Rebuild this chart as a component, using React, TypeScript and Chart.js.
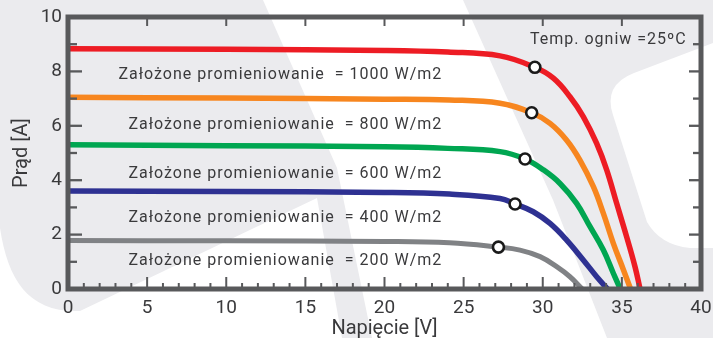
import React, { useEffect, useRef } from "react";
import { Chart, registerables } from "chart.js";

Chart.register(...registerables);

// ---- data ----
const v1000 = [0, 10, 20, 24, 27.3, 29.5, 30.67, 31.72, 32.56, 33.4, 34.04, 34.67, 35.3, 35.83, 36.15];
const i1000 = [8.83, 8.81, 8.77, 8.71, 8.57, 8.15, 7.75, 7.07, 6.34, 5.36, 4.38, 3.15, 1.92, 0.82, 0];

const v800 = [0, 10, 20, 24.1, 27.3, 29.3, 30.46, 31.5, 32.35, 33.2, 33.83, 34.46, 35.09, 35.55];
const i800 = [7.05, 7.02, 6.98, 6.95, 6.83, 6.48, 6.09, 5.48, 4.74, 3.76, 2.78, 1.68, 0.72, 0];

const v600 = [0, 10, 20, 24, 27.3, 28.88, 30.04, 31.09, 32.14, 32.99, 33.83, 34.46, 34.9];
const i600 = [5.3, 5.27, 5.23, 5.17, 5.05, 4.78, 4.38, 3.88, 3.15, 2.29, 1.43, 0.58, 0];

const v400 = [0, 10, 20, 24.1, 27.3, 28.25, 29.4, 30.46, 31.51, 32.56, 33.41, 34.1];
const i400 = [3.6, 3.58, 3.55, 3.49, 3.33, 3.125, 2.84, 2.41, 1.8, 1.07, 0.45, 0];

const v200 = [0, 10, 20, 24.1, 27.2, 28.56, 29.83, 30.88, 31.72, 32.5];
const i200 = [1.78, 1.77, 1.75, 1.7, 1.54, 1.43, 1.19, 0.82, 0.45, 0];

const mppV = [29.5, 29.3, 28.88, 28.25, 27.2];
const mppI = [8.15, 6.48, 4.78, 3.125, 1.54];

const curveColors = ["#ed1c24", "#f7861f", "#00a651", "#2e3192", "#808285"];

const labelTexts = [
  "Założone promieniowanie  = 1000 W/m2",
  "Założone promieniowanie  = 800 W/m2",
  "Założone promieniowanie  = 600 W/m2",
  "Założone promieniowanie  = 400 W/m2",
  "Założone promieniowanie  = 200 W/m2",
];
const labelV = 23.65;
const labelI = [7.95, 6.11, 4.31, 2.66, 1.09];

const tempText = "Temp. ogniw =25ºC";
const tempV = 39.1;
const tempI = 9.22;

const xTitle = "Napięcie [V]";
const yTitle = "Prąd [A]";

const xMin = 0, xMax = 40, xStep = 5;
const yMin = 0, yMax = 10, yStep = 2;

const FRAME = "#58595b";
const TEXT = "#3a3a3c";
const FONT = "Roboto";

const toPts = (xs: number[], ys: number[]) => xs.map((x, i) => ({ x, y: ys[i] }));

const watermarkPlugin = {
  id: "watermark",
  beforeDraw(chart: any) {
    const { ctx, width, height } = chart;
    const sx = width / 713, sy = height / 338;
    ctx.save();
    ctx.scale(sx, sy);
    ctx.fillStyle = "#ebebee";
    ctx.fillRect(0, 0, 713, 338);
    ctx.fillStyle = "#ffffff";
    // central white band
    ctx.beginPath();
    ctx.moveTo(263, 0);
    ctx.lineTo(463, 0);
    ctx.lineTo(553, 200);
    ctx.lineTo(607, 338);
    ctx.lineTo(372, 338);
    ctx.lineTo(337, 168);
    ctx.closePath();
    ctx.fill();
    // bottom-left white
    ctx.beginPath();
    ctx.moveTo(0, 228);
    ctx.bezierCurveTo(8, 282, 30, 313, 80, 311);
    ctx.lineTo(317, 198);
    ctx.lineTo(342, 338);
    ctx.lineTo(0, 338);
    ctx.closePath();
    ctx.fill();
    // right white blob
    ctx.beginPath();
    ctx.moveTo(647, 222);
    ctx.lineTo(613, 115);
    ctx.quadraticCurveTo(603, 85, 634, 73);
    ctx.lineTo(713, 43);
    ctx.lineTo(713, 248);
    ctx.lineTo(690, 248);
    ctx.quadraticCurveTo(660, 245, 647, 222);
    ctx.closePath();
    ctx.fill();
    ctx.restore();
  },
};

const framePlugin = {
  id: "frame",
  afterDatasetsDraw(chart: any) {
    const { ctx, chartArea, scales } = chart;
    const { left, right, top, bottom } = chartArea;
    const x = scales.x, y = scales.y;
    const line = (x1: number, y1: number, x2: number, y2: number) => {
      ctx.beginPath();
      ctx.moveTo(x1, y1);
      ctx.lineTo(x2, y2);
      ctx.stroke();
    };
    ctx.save();
    ctx.strokeStyle = FRAME;
    ctx.lineWidth = 2;
    for (let v = xMin + 1; v < xMax; v++) {
      const px = x.getPixelForValue(v);
      const major = v % 5 === 0;
      line(px, bottom, px, bottom - (major ? 12 : 6));
      if (major) line(px, top, px, top + 9);
    }
    ctx.lineWidth = 2.3;
    for (let v = yMin + 1; v < yMax; v++) {
      const py = y.getPixelForValue(v);
      const major = v % 2 === 0;
      line(left, py, left + (major ? 14 : 9), py);
      line(right, py, right - (major ? 12 : 8), py);
    }
    ctx.lineWidth = 5;
    ctx.strokeRect(left, top, right - left, bottom - top);

    // annotations
    ctx.fillStyle = TEXT;
    (ctx as any).letterSpacing = "1px";
    ctx.font = `16px ${FONT}`;
    ctx.textAlign = "right";
    ctx.textBaseline = "alphabetic";
    labelTexts.forEach((t, i) => {
      ctx.fillText(t, x.getPixelForValue(labelV), y.getPixelForValue(labelI[i]) + 5.8);
    });
    ctx.fillText(tempText, x.getPixelForValue(tempV), y.getPixelForValue(tempI) + 5.8);
    ctx.restore();
  },
};

export default function App() {
  const ref = useRef<HTMLCanvasElement | null>(null);
  useEffect(() => {
    if (!ref.current) return;
    const curves = [
      toPts(v1000, i1000),
      toPts(v800, i800),
      toPts(v600, i600),
      toPts(v400, i400),
      toPts(v200, i200),
    ];
    const datasets: any[] = [
      {
        type: "line",
        label: "MPP",
        data: toPts(mppV, mppI),
        showLine: false,
        pointRadius: 5.5,
        pointBorderWidth: 2.6,
        pointBackgroundColor: "#ffffff",
        pointBorderColor: "#1a1a1a",
        order: 0,
      },
      ...curves.map((d, i) => ({
        type: "line",
        label: labelTexts[i],
        data: d,
        borderColor: curveColors[i],
        borderWidth: i === 4 ? 5 : 5.5,
        borderCapStyle: "butt",
        borderJoinStyle: "round",
        tension: 0.4,
        pointRadius: 0,
        fill: false,
        order: 1,
      })),
    ];
    const chart = new Chart(ref.current, {
      type: "line",
      data: { datasets },
      options: {
        animation: false,
        responsive: true,
        maintainAspectRatio: false,
        layout: { padding: { top: 17, right: 12, left: 0, bottom: 0 } },
        plugins: { legend: { display: false }, tooltip: { enabled: false } },
        scales: {
          x: {
            type: "linear",
            min: xMin,
            max: xMax,
            grid: { display: false, drawTicks: false },
            border: { display: false },
            ticks: {
              stepSize: xStep,
              padding: 8,
              color: TEXT,
              font: { family: FONT, size: 19 },
              maxRotation: 0,
              autoSkip: false,
            },
            title: {
              display: true,
              text: xTitle,
              color: TEXT,
              font: { family: FONT, size: 20, lineHeight: 0.9 },
              padding: { top: 0, bottom: 0 },
            },
            afterFit: (s: any) => {
              s.height = 49;
              s.paddingLeft = 0;
              s.paddingRight = 0;
            },
          },
          y: {
            type: "linear",
            min: yMin,
            max: yMax,
            grid: { display: false, drawTicks: false },
            border: { display: false },
            ticks: {
              stepSize: yStep,
              padding: 6,
              color: TEXT,
              font: { family: FONT, size: 19 },
            },
            title: {
              display: true,
              text: yTitle,
              color: TEXT,
              font: { family: FONT, size: 20, lineHeight: 1 },
              padding: { top: 12, bottom: 0 },
            },
            afterFit: (s: any) => {
              s.width = 68;
              s.paddingTop = 0;
              s.paddingBottom = 0;
            },
          },
        },
      } as any,
      plugins: [watermarkPlugin, framePlugin],
    });
    return () => chart.destroy();
  }, []);
  return (
    <div style={{ position: "fixed", left: 0, top: 0, width: 713, height: 338 }}>
      <canvas ref={ref} style={{ display: "block" }} />
    </div>
  );
}
